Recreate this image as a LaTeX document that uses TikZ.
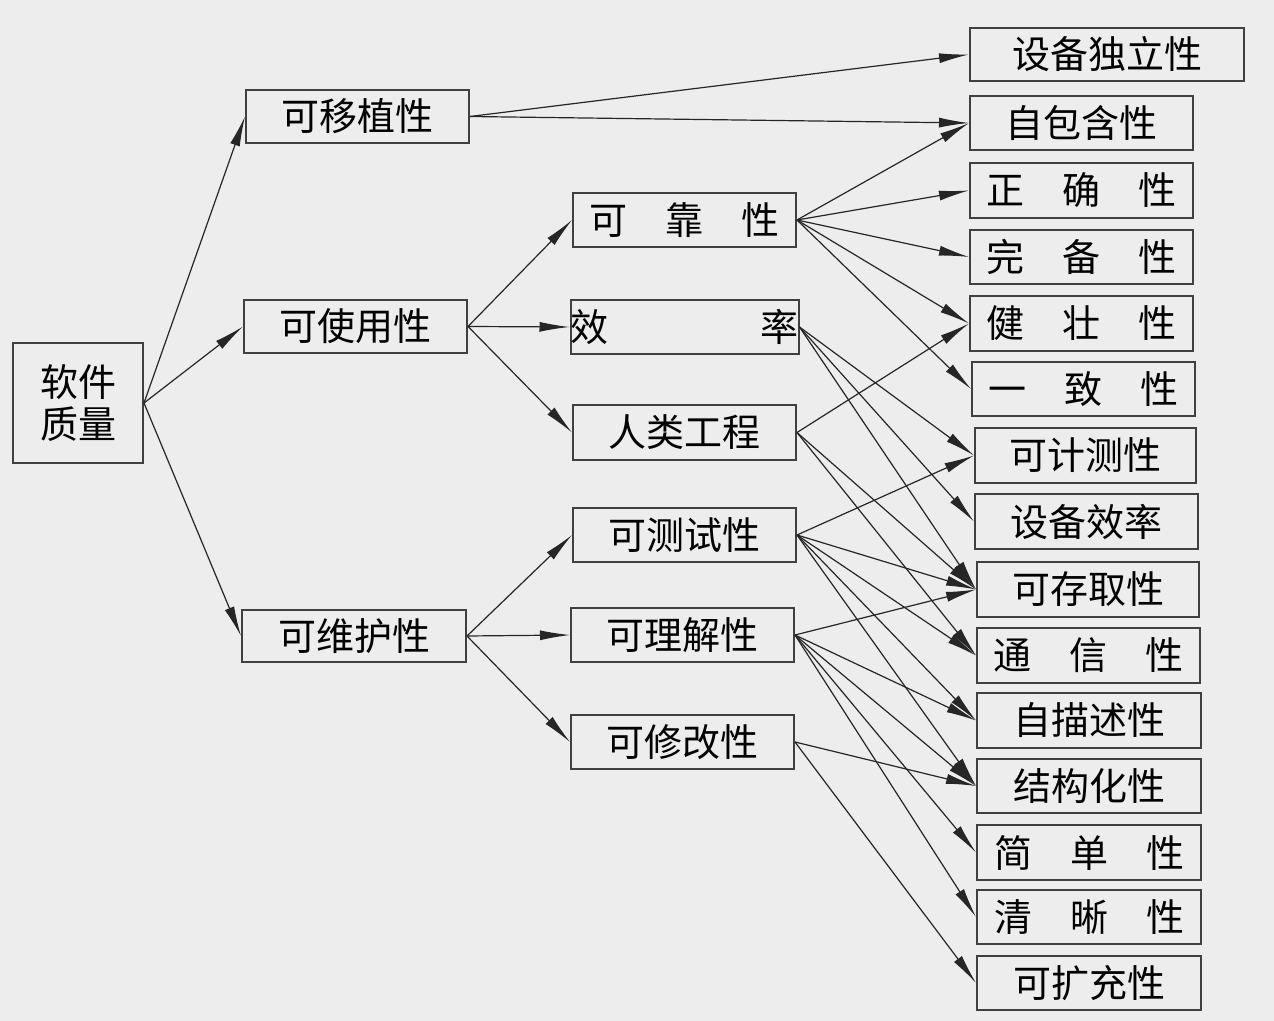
\documentclass[tikz,border=0pt]{standalone}
\usepackage{fontspec}
\setmainfont{Noto Sans CJK SC}
\usetikzlibrary{arrows.meta}
\newcommand{\bx}[6]{\node[qbox,minimum width={(#4-#2)*0.5pt},minimum height={(#5-#3)*0.5pt}] (#1) at ({(#2+#4)/2},{(#3+#5)/2}) {#6};}
\begin{document}
\begin{tikzpicture}[x=0.5pt,y=-0.5pt,
 qbox/.style={draw=black!75,line width=1pt,fill=white!93!black,inner sep=0pt,font=\fontsize{19}{21}\selectfont},
 ar/.style={-{Latex[length=15pt,width=5pt]},line width=0.6pt,black!85}]
\fill[white!93!black] (0,0) rectangle (1274,1021);
\bx{q}{13}{343}{143}{463}{\parbox{2.2em}{\centering 软件\\质量}}
\bx{p1}{246}{90}{469}{143}{可移植性}
\bx{p2}{244}{300}{467}{353}{可使用性}
\bx{p3}{242}{610}{466}{662}{可维护性}
\bx{m1}{573}{193}{796}{247}{可\hspace{1em}靠\hspace{1em}性}
\bx{m2}{573}{300}{796}{354}{效\hspace{4em}率}
\bx{m3}{573}{405}{796}{460}{人类工程}
\bx{m4}{573}{508}{796}{562}{可测试性}
\bx{m5}{571}{608}{794}{662}{可理解性}
\bx{m6}{571}{715}{794}{769}{可修改性}
\bx{r1}{970}{28}{1244}{81}{设备独立性}
\bx{r2}{970}{96}{1193}{150}{自包含性}
\bx{r3}{970}{163}{1193}{218}{正\hspace{1em}确\hspace{1em}性}
\bx{r4}{970}{230}{1193}{284}{完\hspace{1em}备\hspace{1em}性}
\bx{r5}{970}{296}{1193}{351}{健\hspace{1em}壮\hspace{1em}性}
\bx{r6}{972}{362}{1195}{416}{一\hspace{1em}致\hspace{1em}性}
\bx{r7}{975}{428}{1196}{483}{可计测性}
\bx{r8}{975}{494}{1198}{549}{设备效率}
\bx{r9}{977}{562}{1199}{617}{可存取性}
\bx{r10}{977}{628}{1200}{683}{通\hspace{1em}信\hspace{1em}性}
\bx{r11}{977}{693}{1201}{748}{自描述性}
\bx{r12}{977}{759}{1201}{813}{结构化性}
\bx{r13}{977}{825}{1201}{880}{简\hspace{1em}单\hspace{1em}性}
\bx{r14}{977}{890}{1201}{944}{清\hspace{1em}晰\hspace{1em}性}
\bx{r15}{977}{956}{1201}{1010}{可扩充性}
\foreach \a/\b in {q/p1,q/p2,q/p3,p2/m1,p2/m2,p2/m3,p3/m4,p3/m5,p3/m6,
 p1/r1,p1/r2,m1/r2,m1/r3,m1/r4,m1/r5,m1/r6,m2/r7,m2/r8,m2/r9,m3/r5,m3/r9,m3/r10,
 m4/r7,m4/r9,m4/r10,m4/r11,m4/r12,m5/r11,m5/r12,m5/r13,m5/r14,m5/r9,m6/r12,m6/r15}
 \draw[ar] (\a.east) -- (\b.west);
\end{tikzpicture}
\end{document}
